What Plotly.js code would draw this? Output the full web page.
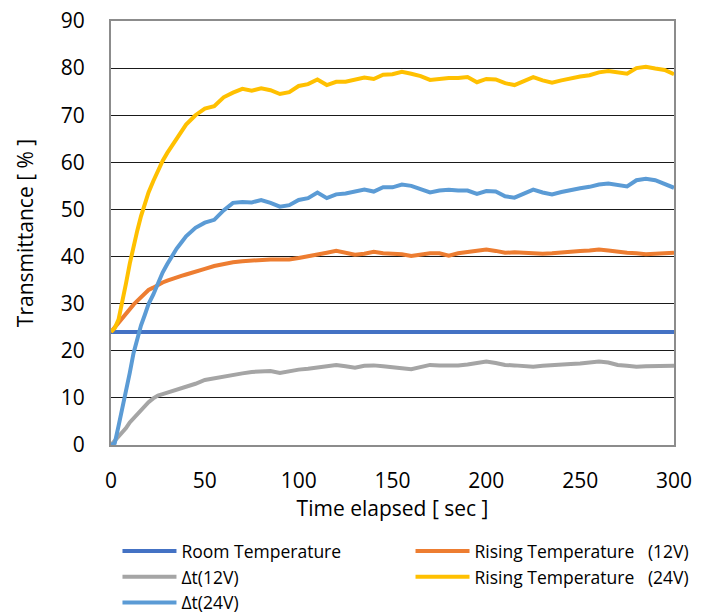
<!DOCTYPE html>
<html>
<head>
<meta charset="utf-8">
<script src="https://cdn.plot.ly/plotly-3.0.1.min.js"></script>
<style>html,body{margin:0;padding:0;background:#fff;}#chart{width:710px;height:616px;}</style>
</head>
<body>
<div id="chart"></div>
<script>
// Time elapsed [sec]
const timeSec = [0,2,4,6,8,10,12,14,16,18,20,22.5,25,27.5,30,32.5,35,37.5,40,
  45,50,55,60,65,70,75,80,85,90,95,100,105,110,115,120,125,130,135,140,145,150,
  155,160,165,170,175,180,185,190,195,200,205,210,215,220,225,230,235,240,245,250,
  255,260,265,270,275,280,285,290,295,300];

const roomTemp = [24.0,24.0,24.0,24.0,24.0,24.0,24.0,24.0,24.0,24.0,24.0,24.0,24.0,24.0,24.0,24.0,24.0,24.0,24.0,
  24.0,24.0,24.0,24.0,24.0,23.9,23.9,23.9,23.9,23.9,24.0,24.0,24.0,24.0,24.1,24.1,24.0,24.0,24.0,24.0,24.0,24.0,
  24.0,24.0,24.0,24.0,24.0,24.0,24.0,24.0,24.0,24.0,24.0,24.0,24.0,24.0,24.0,24.0,24.0,24.0,23.9,23.9,
  24.0,24.0,24.0,24.0,24.0,24.0,24.1,24.0,24.0,24.0];

const rising12V = [24.0,25.0,26.0,27.0,28.0,28.9,29.8,30.6,31.4,32.2,32.9,33.4,34.0,34.5,34.9,35.3,35.6,35.9,36.2,
  36.9,37.4,38.0,38.5,38.8,39.0,39.2,39.3,39.4,39.4,39.4,39.7,40.0,40.4,40.8,41.2,40.8,40.4,40.6,41.0,40.7,40.7,
  40.5,40.1,40.4,40.7,40.7,40.2,40.7,41.0,41.2,41.5,41.2,40.8,40.9,40.8,40.5,40.6,40.7,40.9,41.2,41.2,
  41.3,41.5,41.3,41.0,40.8,40.7,40.5,40.6,40.8,40.8];

const delta12V = [0,0.9,1.8,2.6,3.6,4.8,5.7,6.7,7.6,8.3,9.1,9.9,10.5,10.8,11.1,11.3,11.6,12.0,12.4,
  13.0,13.8,14.2,14.6,14.9,15.2,15.5,15.7,15.7,15.3,15.7,16.0,16.2,16.5,16.8,17.0,16.7,16.4,16.8,16.9,16.7,16.6,
  16.3,16.1,16.5,17.0,16.9,16.8,16.9,17.1,17.4,17.7,17.4,17.0,16.9,16.7,16.6,16.8,17.0,17.0,17.2,17.3,
  17.6,17.7,17.5,17.0,16.8,16.6,16.7,16.8,16.8,16.8];

const rising24V = [24.0,24.8,26.6,30.2,34.3,38.5,42.3,45.5,48.6,51.3,53.6,56.0,58.2,60.3,62.0,63.5,65.0,66.6,68.0,
  70.0,71.4,71.9,73.8,74.8,75.6,75.2,75.7,75.3,74.5,74.9,76.2,76.6,77.6,76.4,77.1,77.1,77.5,78.0,77.7,78.6,78.7,
  79.2,78.8,78.3,77.5,77.8,77.9,77.9,78.1,77.0,77.7,77.6,76.8,76.4,77.2,78.1,77.4,76.9,77.4,77.9,78.2,
  78.5,79.1,79.4,79.0,78.8,80.0,80.3,79.9,79.6,78.7];

const delta24V = [0,0.4,4.0,7.5,11.3,15.3,19.5,22.7,25.4,27.6,29.9,31.9,34.4,36.6,38.4,40.1,41.7,43.0,44.3,
  46.1,47.2,47.8,49.8,51.4,51.6,51.5,52.0,51.4,50.6,50.9,52.0,52.4,53.6,52.4,53.2,53.4,53.8,54.2,53.8,54.7,54.7,
  55.3,55.0,54.4,53.6,54.0,54.2,54.0,54.0,53.3,53.9,53.8,52.8,52.5,53.4,54.2,53.6,53.2,53.7,54.2,54.5,
  54.8,55.3,55.5,55.3,54.9,56.2,56.5,56.2,55.5,54.6];

const seriesNames = ['Room Temperature', 'Rising Temperature\u00a0\u00a0\u00a0(12V)', '\u0394t(12V)',
  'Rising Temperature\u00a0\u00a0\u00a0(24V)', '\u0394t(24V)'];
const seriesValues = [roomTemp, rising12V, delta12V, rising24V, delta24V];
const seriesColors = ['#4472C4', '#ED7D31', '#A5A5A5', '#FFC000', '#5B9BD5'];
const seriesLegend = ['legend', 'legend2', 'legend', 'legend2', 'legend'];

const xTicks = [0, 50, 100, 150, 200, 250, 300];
const yTicks = [0, 10, 20, 30, 40, 50, 60, 70, 80, 90];

const traces = seriesValues.map((vals, i) => ({
  x: timeSec, y: vals, type: 'scatter', mode: 'lines', name: seriesNames[i],
  legend: seriesLegend[i],
  line: {color: seriesColors[i], width: 4}
}));

const font = 'Open Sans, Noto Sans, sans-serif';
const legendBase = {
  orientation: 'v', xanchor: 'left', y: -0.208, yanchor: 'top',
  itemwidth: 54, bgcolor: 'rgba(0,0,0,0)',
  font: {size: 17.5, family: font, color: '#000'},
  traceorder: 'normal'
};
const layout = {
  width: 710, height: 616,
  margin: {l: 111, r: 36, t: 21, b: 171, autoexpand: false},
  paper_bgcolor: '#fff', plot_bgcolor: '#fff',
  font: {family: font, color: '#000'},
  showlegend: true,
  xaxis: {
    range: [0, 300], tickvals: xTicks, ticktext: xTicks.map(String), automargin: false,
    showgrid: false, zeroline: false, showline: true, mirror: true,
    linecolor: '#8c8c8c', linewidth: 2, ticks: '', ticklabelstandoff: 16,
    tickfont: {size: 21, family: font},
    title: {text: 'Time elapsed [ sec ]', font: {size: 21, family: font}, standoff: 4}
  },
  yaxis: {
    range: [0, 90], tickvals: yTicks, ticktext: yTicks.map(String), automargin: false,
    showgrid: true, gridcolor: '#1a1a1a', gridwidth: 1, zeroline: false,
    showline: true, mirror: true, linecolor: '#8c8c8c', linewidth: 2,
    ticks: '', ticklabelstandoff: 20,
    tickfont: {size: 21, family: font},
    title: {text: 'Transmittance [ % ]', font: {size: 21, family: font}, standoff: 21}
  },
  legend: Object.assign({}, legendBase, {x: 0.0115}),
  legend2: Object.assign({}, legendBase, {x: 0.532})
};

Plotly.newPlot('chart', traces, layout, {staticPlot: true, displayModeBar: false});
</script>
</body>
</html>
